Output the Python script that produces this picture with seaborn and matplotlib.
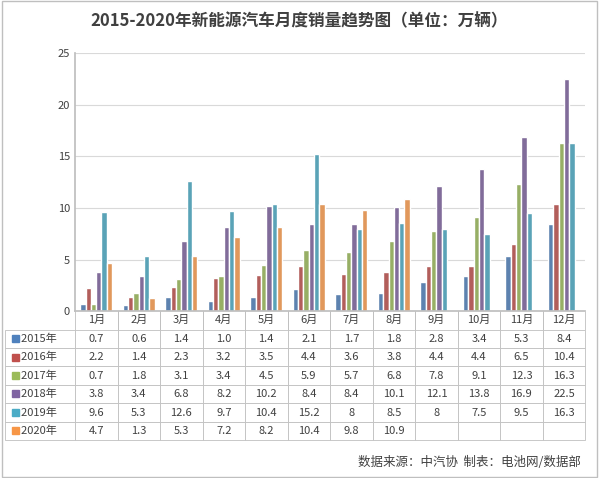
import matplotlib
matplotlib.use('Agg')
import matplotlib.pyplot as plt
import matplotlib.patches as mpatches
import seaborn as sns
import pandas as pd

months = [f'{i}月' for i in range(1, 13)]
years = ['2015年', '2016年', '2017年', '2018年', '2019年', '2020年']
v2015 = [0.7, 0.6, 1.4, 1.0, 1.4, 2.1, 1.7, 1.8, 2.8, 3.4, 5.3, 8.4]
v2016 = [2.2, 1.4, 2.3, 3.2, 3.5, 4.4, 3.6, 3.8, 4.4, 4.4, 6.5, 10.4]
v2017 = [0.7, 1.8, 3.1, 3.4, 4.5, 5.9, 5.7, 6.8, 7.8, 9.1, 12.3, 16.3]
v2018 = [3.8, 3.4, 6.8, 8.2, 10.2, 8.4, 8.4, 10.1, 12.1, 13.8, 16.9, 22.5]
v2019 = [9.6, 5.3, 12.6, 9.7, 10.4, 15.2, 8, 8.5, 8, 7.5, 9.5, 16.3]
v2020 = [4.7, 1.3, 5.3, 7.2, 8.2, 10.4, 9.8, 10.9]
series = [v2015, v2016, v2017, v2018, v2019, v2020]
colors = ['#4F81BD', '#C0504D', '#9BBB59', '#8064A2', '#4BACC6', '#F79646']

rows = []
for y, vals in zip(years, series):
    for m, v in zip(months, vals):
        rows.append({'month': m, 'year': y, 'value': v})
df = pd.DataFrame(rows)

sns.set_theme(style='white')
plt.rcParams['font.family'] = ['Noto Sans CJK SC', 'DejaVu Sans']

fig = plt.figure(figsize=(5.99, 4.78), dpi=100)
ax = fig.add_axes([0.125, 0.349, 0.852, 0.54])
sns.barplot(data=df, x='month', y='value', hue='year', order=months, hue_order=years,
            palette=colors, width=0.75, ax=ax, legend=False)
ax.set_ylim(0, 25)
ax.set_yticks(range(0, 26, 5))
ax.yaxis.grid(True, color='#d9d9d9', lw=0.8)
ax.set_axisbelow(True)
ax.set_xlabel(''); ax.set_ylabel('')
ax.set_xticks([]); ax.set_xlim(-0.5, 11.5)
ax.tick_params(axis='y', labelsize=8, colors='#404040', length=0)
for s in ['top', 'right']:
    ax.spines[s].set_visible(False)
ax.spines['left'].set_color('#bfbfbf')
ax.spines['bottom'].set_color('#bfbfbf')

cell_text = [[''] + months]
for y, vals in zip(years, series):
    cell_text.append(['      ' + y] + [str(v) for v in vals] + [''] * (12 - len(vals)))
tbl = ax.table(cellText=cell_text, cellLoc='center', bbox=[-0.137, -0.5, 1.137, 0.5])
tbl.auto_set_font_size(False)
tbl.set_fontsize(8)
for (r, c), cell in tbl.get_celld().items():
    cell.set_width(70 if c == 0 else 42.5)
    cell.set_edgecolor('#bfbfbf')
    cell.set_linewidth(0.6)
    cell.get_text().set_color('#404040')
    if r == 0:
        cell.visible_edges = 'LR' if c > 0 else ''
    if c == 0:
        cell.set_text_props(ha='left')
        cell.PAD = 0.02

row_h = 129 / 7
for i, col in enumerate(colors):
    yc = 311 + row_h * (i + 1.5)
    fig.patches.append(mpatches.Rectangle((12 / 599, 1 - (yc + 3.5) / 478), 7 / 599, 7 / 478,
                                          transform=fig.transFigure, color=col))

fig.text(0.5, 0.955, '2015-2020年新能源汽车月度销量趋势图（单位：万辆）', ha='center', va='center',
         fontsize=12, fontweight='bold', color='#404040')
fig.text(0.97, 0.033, '数据来源：中汽协  制表：电池网/数据部', ha='right', va='center',
         fontsize=9, color='#404040')
fig.patches.append(mpatches.Rectangle((0.003, 0.003), 0.994, 0.994, transform=fig.transFigure,
                                      fill=False, edgecolor='#bfbfbf', lw=1))
fig.savefig('out.png', dpi=100)
